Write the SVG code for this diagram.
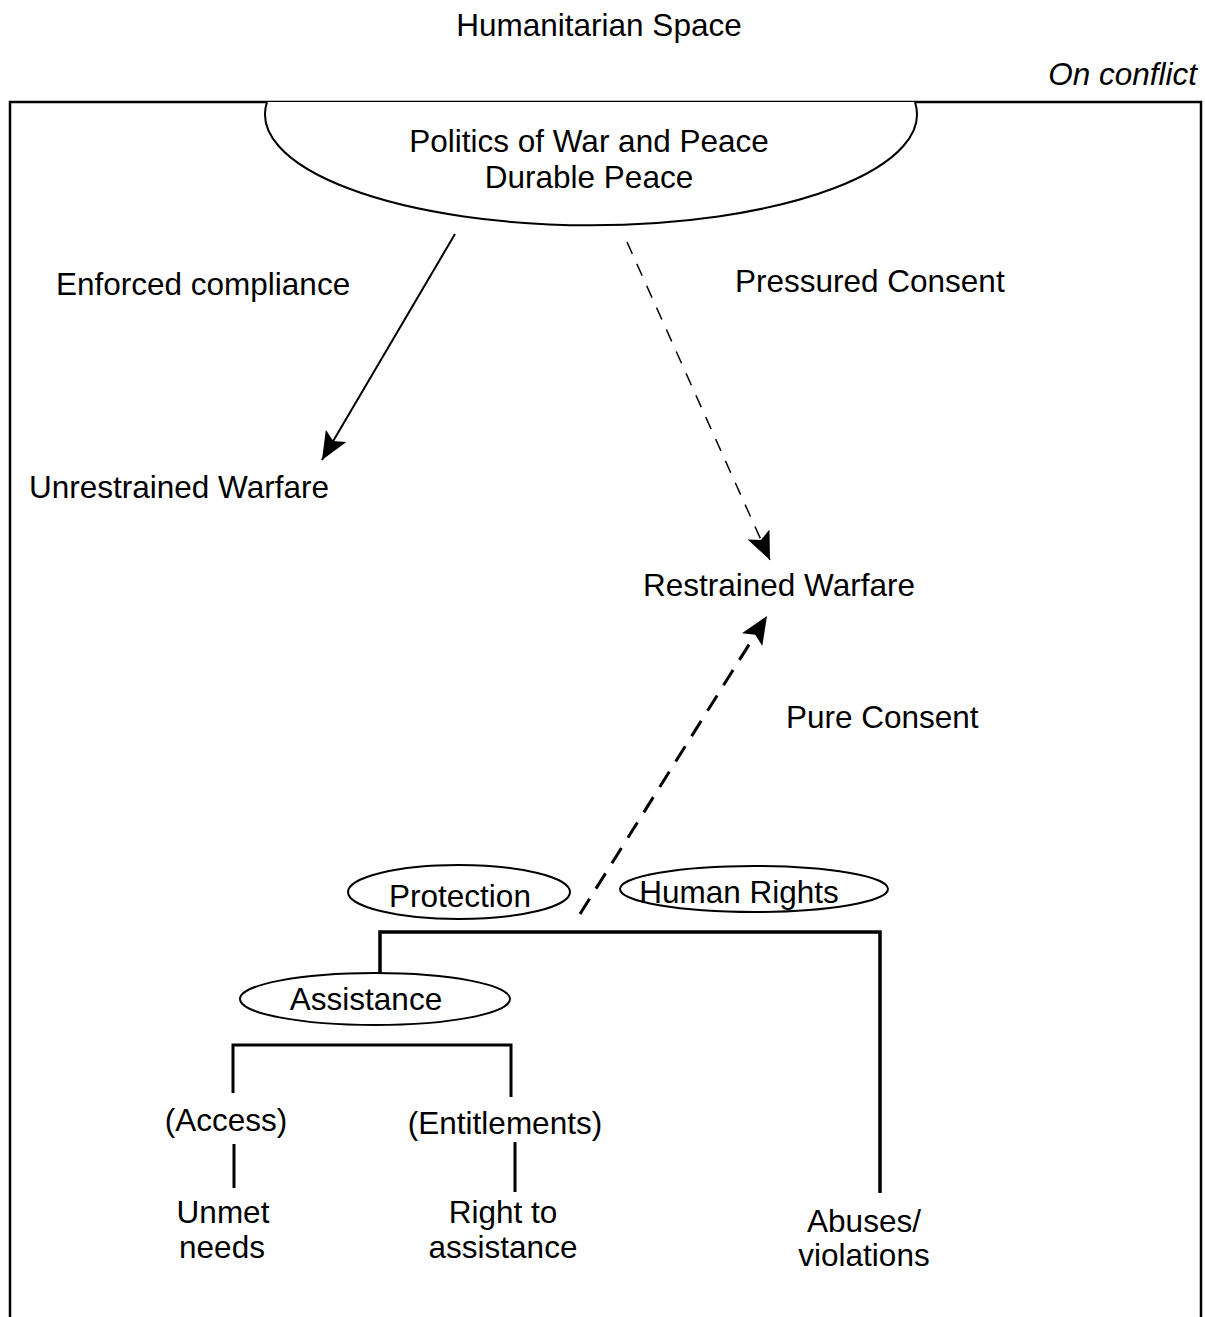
<svg xmlns="http://www.w3.org/2000/svg" width="1205" height="1317" viewBox="0 0 1205 1317">
<style>
  text { font-family: "Liberation Sans", Arial, sans-serif; font-size: 31.5px; fill: #000; }
  .c { text-anchor: middle; }
  .shape { fill: #fff; stroke: #000; stroke-width: 2; }
  .tree { fill: none; stroke: #000; stroke-width: 3.5; }
  .thin { fill: none; stroke: #000; stroke-width: 3; }
</style>
<defs>
  <marker id="ah" markerUnits="userSpaceOnUse" markerWidth="30" markerHeight="26" refX="28" refY="12" orient="auto">
    <path d="M0,0 L28,12 L0,24 L6,12 Z" fill="#000"/>
  </marker>
</defs>
<rect width="1205" height="1317" fill="#fff"/>
<text class="c" x="599" y="36">Humanitarian Space</text>
<text x="1197" y="85" text-anchor="end" font-style="italic">On conflict</text>
<rect x="10" y="102" width="1191" height="1230" fill="none" stroke="#000" stroke-width="2.5"/>

<g id="politics">
  <path class="shape" d="M267,102 A326,111 0 1 0 915,102"/>
  <text class="c" x="589" y="152">Politics of War and Peace</text>
  <text class="c" x="589" y="188">Durable Peace</text>
</g>
<g id="enforced"><text x="56" y="295">Enforced compliance</text></g>
<g id="pressured"><text x="735" y="292">Pressured Consent</text></g>
<g id="unrestrained"><text x="29" y="498">Unrestrained Warfare</text></g>
<g id="restrained"><text x="643" y="596">Restrained Warfare</text></g>
<g id="pure"><text x="786" y="728">Pure Consent</text></g>
<g id="protection">
  <ellipse class="shape" cx="459" cy="892" rx="111" ry="27"/>
  <text class="c" x="460" y="907">Protection</text>
</g>
<g id="humanrights">
  <ellipse class="shape" cx="754" cy="889" rx="134" ry="23"/>
  <text class="c" x="739" y="903">Human Rights</text>
</g>
<g id="assistance">
  <ellipse class="shape" cx="375" cy="999" rx="135" ry="26"/>
  <text class="c" x="366" y="1010">Assistance</text>
</g>
<g id="access"><text class="c" x="226" y="1131">(Access)</text></g>
<g id="entitlements"><text class="c" x="505" y="1134">(Entitlements)</text></g>
<g id="unmet">
  <text class="c" x="223" y="1223">Unmet</text>
  <text class="c" x="222" y="1258">needs</text>
</g>
<g id="right">
  <text class="c" x="503" y="1223">Right to</text>
  <text class="c" x="503" y="1258">assistance</text>
</g>
<g id="abuses">
  <text class="c" x="864" y="1232">Abuses/</text>
  <text class="c" x="864" y="1266">violations</text>
</g>

<g id="connectors">
  <line x1="455" y1="234" x2="322" y2="460" stroke="#000" stroke-width="2" marker-end="url(#ah)"/>
  <line x1="627" y1="242" x2="770" y2="560" stroke="#000" stroke-width="1.5" stroke-dasharray="13,11" marker-end="url(#ah)"/>
  <line x1="580" y1="914" x2="767" y2="616" stroke="#000" stroke-width="3" stroke-dasharray="18,12" marker-end="url(#ah)"/>
  <path class="tree" d="M380,973 V932 H880 V1193"/>
  <path class="thin" d="M233,1093 V1045 H511 V1097"/>
  <line class="thin" x1="234" y1="1144" x2="234" y2="1188"/>
  <line class="thin" x1="515" y1="1142" x2="515" y2="1192"/>
</g>
</svg>
